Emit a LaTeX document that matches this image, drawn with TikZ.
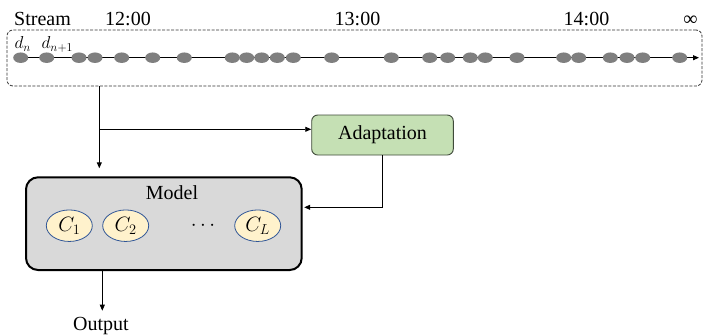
\documentclass[tikz,border=0pt]{standalone}
\usepackage{fontspec}
\setmainfont{Liberation Serif}
\usetikzlibrary{arrows.meta,shapes.geometric}
\definecolor{adaptfill}{HTML}{C5E0B4}
\definecolor{adaptdraw}{HTML}{3F4A3A}
\definecolor{modelfill}{HTML}{D9D9D9}
\definecolor{cfill}{HTML}{FFF2CC}
\definecolor{cdraw}{HTML}{2F5597}
\definecolor{dotgray}{HTML}{7F7F7F}
\begin{document}
\begin{tikzpicture}[x=1pt,y=-1pt,
  txt/.style={font=\fontsize{20}{24}\selectfont, inner sep=0pt},
  mathtxt/.style={font=\fontsize{18}{21}\selectfont, inner sep=0pt},
  dot/.style={ellipse, fill=dotgray, minimum width=15pt, minimum height=10.5pt, inner sep=0pt},
  arr/.style={-{Triangle[length=6pt,width=5pt]}, line width=0.9pt},
  cell/.style={ellipse, draw=cdraw, line width=0.8pt, fill=cfill, minimum width=46pt, minimum height=31.5pt, inner sep=0pt, font=\fontsize{21}{24}\selectfont}
]
\useasboundingbox (0,0) rectangle (704,335);

% stream box
\node[draw=black!80, dashed, dash pattern=on 3pt off 1.5pt, line width=0.8pt, rounded corners=6pt,
  minimum width=695pt, minimum height=56pt, inner sep=0pt] (streambox) at (354.5,58) {};

% labels
\node[txt, anchor=base west] (stream) at (14,25) {Stream};
\node[txt, anchor=base] (t12) at (128,25) {12:00};
\node[txt, anchor=base] (t13) at (357.5,25) {13:00};
\node[txt, anchor=base] (t14) at (586.5,25) {14:00};
\node[txt, anchor=base] (tinf) at (690.5,25) {∞};
\node[mathtxt, anchor=base west] (dn) at (14.5,48.5) {$d_n$};
\node[mathtxt, anchor=base west] (dn1) at (41.5,48.5) {$d_{n+1}$};

% timeline
\coordinate (tlstart) at (20.7,57.7);
\coordinate (tlend) at (699,57.7);
\draw[-{Triangle[length=6pt,width=5pt]}, line width=0.9pt] (tlstart) -- (tlend);
\foreach \i/\x in {1/20.7,2/46.7,3/79,4/95,5/121.7,6/152.7,7/184.3,8/232.3,9/246.7,10/261.7,11/277.3,12/293.3,13/331.7,14/391.3,15/429.7,16/447.7,17/470.3,18/485.3,19/517,20/563.7,21/578.7,22/610.3,23/627,24/642.7,25/679.7}
  \node[dot] (e\i) at (\x,57.7) {};

% adaptation
\node[draw=adaptdraw, fill=adaptfill, line width=0.9pt, rounded corners=6pt,
  minimum width=141.6pt, minimum height=40pt, inner sep=0pt, font=\fontsize{20}{24}\selectfont] (adapt) at (382.5,135) {Adaptation};

% model
\node[draw=black, fill=modelfill, line width=2pt, rounded corners=12pt,
  minimum width=275.7pt, minimum height=92.7pt, inner sep=0pt] (model) at (163.85,223.65) {};
\node[txt, anchor=base] (modellbl) at (172,199.5) {Model};
\node[cell] (c1) at (69.3,225.7) {$C_1$};
\node[cell] (c2) at (125.7,225.7) {$C_2$};
\node[cell] (cL) at (257.7,225.7) {$C_L$};
\node[font=\fontsize{22}{24}\selectfont\bfseries, inner sep=0pt] (dots) at (203,226) {$\mathbf{\cdots}$};

% connectors
\coordinate (split) at (99.3,129.3);
\coordinate (fb) at (0,207.3);
\draw[line width=0.9pt] (streambox.south -| split) -- (split);
\draw[arr, shorten >=8pt] (split) -- (model.north -| split);
\draw[arr] (split) -- (adapt.west |- split);
\draw[arr, shorten >=1.5pt] (adapt.south) |- (model.east |- fb);

\node[txt, anchor=base] (output) at (101,330) {Output};
\coordinate (outx) at (102.3,310.7);
\draw[arr] (model.south -| outx) -- (outx);
\end{tikzpicture}
\end{document}
